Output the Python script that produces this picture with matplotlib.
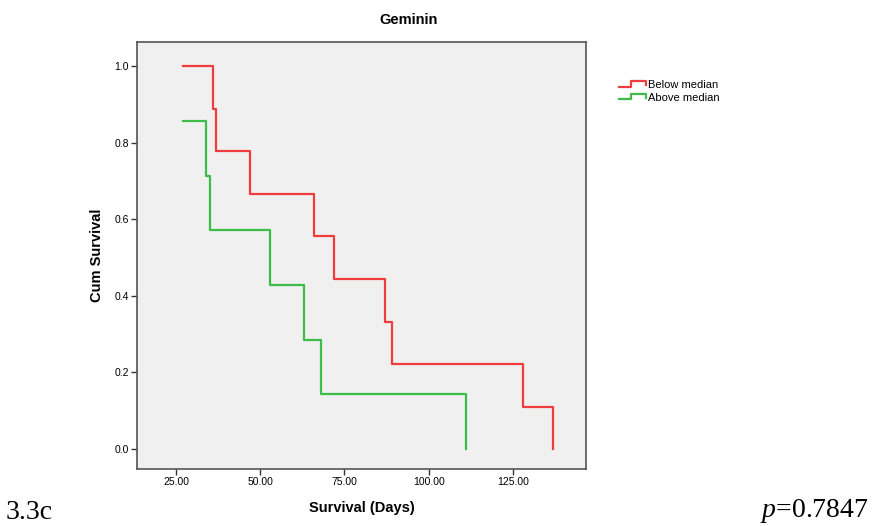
import matplotlib
matplotlib.use("Agg")
import matplotlib.pyplot as plt
from matplotlib.lines import Line2D
from matplotlib.legend_handler import HandlerLine2D

plt.rcParams['font.family'] = ['Liberation Sans', 'DejaVu Sans']
plt.rcParams['mathtext.fontset'] = 'custom'
plt.rcParams['mathtext.it'] = 'Liberation Serif:italic'
plt.rcParams['mathtext.rm'] = 'Liberation Serif'

# Kaplan-Meier steps, survival in days
below_days = [27, 36, 37, 47, 66, 72, 87, 89, 128, 137]
below_surv = [1.0, 0.889, 0.778, 0.667, 0.556, 0.444, 0.333, 0.222, 0.111, 0.0]
above_days = [27, 34, 35, 53, 63, 68, 111]
above_surv = [0.857, 0.714, 0.571, 0.429, 0.286, 0.143, 0.0]

series_names = ["Below median", "Above median"]
x_ticks = [25, 50, 75, 100, 125]
y_ticks = [0.0, 0.2, 0.4, 0.6, 0.8, 1.0]

red = '#f03c3c'
green = '#3cbc48'


class StepHandler(HandlerLine2D):
    # little step glyph like the SPSS legend
    def create_artists(self, legend, orig_handle, xdescent, ydescent,
                       width, height, fontsize, trans):
        x0, x1 = -xdescent, -xdescent + width
        xm = x0 + width * 0.45
        lo = -ydescent + height * 0.2
        hi = -ydescent + height * 0.9
        ln = Line2D([x0, xm, xm, x1, x1], [lo, lo, hi, hi, lo + height * 0.2],
                    color=orig_handle.get_color(), lw=orig_handle.get_linewidth())
        ln.set_transform(trans)
        return [ln]


fig = plt.figure(figsize=(8.78, 5.26), dpi=100)
ax = fig.add_axes([0.156, 0.1084, 0.5114, 0.8118])
ax.set_facecolor('#f0f0f0')

l1, = ax.step(below_days, below_surv, where='post', color=red, lw=1.6)
l2, = ax.step(above_days, above_surv, where='post', color=green, lw=1.6)

ax.set_xlim(13.4, 146.7)
ax.set_ylim(-0.052, 1.063)
ax.set_xticks(x_ticks)
ax.set_xticklabels([f"{v:.2f}" for v in x_ticks])
ax.set_yticks(y_ticks)
ax.set_yticklabels([f"{v:.1f}" for v in y_ticks])
ax.tick_params(labelsize=7.5, length=4, width=1, color='#333333', pad=2)
for s in ax.spines.values():
    s.set_color('#555555')
    s.set_linewidth(1.2)

ax.set_ylabel('Cum Survival', fontsize=10.5, fontweight='bold', labelpad=7)
fig.text(0.412, 0.027, 'Survival (Days)', fontsize=10.5, fontweight='bold',
         ha='center', va='baseline')
fig.text(409 / 878, 1 - 20 / 526, 'Geminin', fontsize=10.5, fontweight='bold',
         ha='center', va='center')

leg = fig.legend([l1, l2], series_names, loc='upper left',
                 bbox_to_anchor=(0.699, 0.858), frameon=False, fontsize=8,
                 handler_map={Line2D: StepHandler()}, handlelength=2.4,
                 handletextpad=0.15, labelspacing=0.25, borderpad=0)

fig.text(0.006, 0.013, '3.3c', family='Liberation Serif', fontsize=20,
         ha='left', va='baseline')
fig.text(0.989, 0.017, r'$p$=0.7847', family='Liberation Serif',
         fontsize=20, ha='right', va='baseline')

plt.savefig('out.png', dpi=100)
